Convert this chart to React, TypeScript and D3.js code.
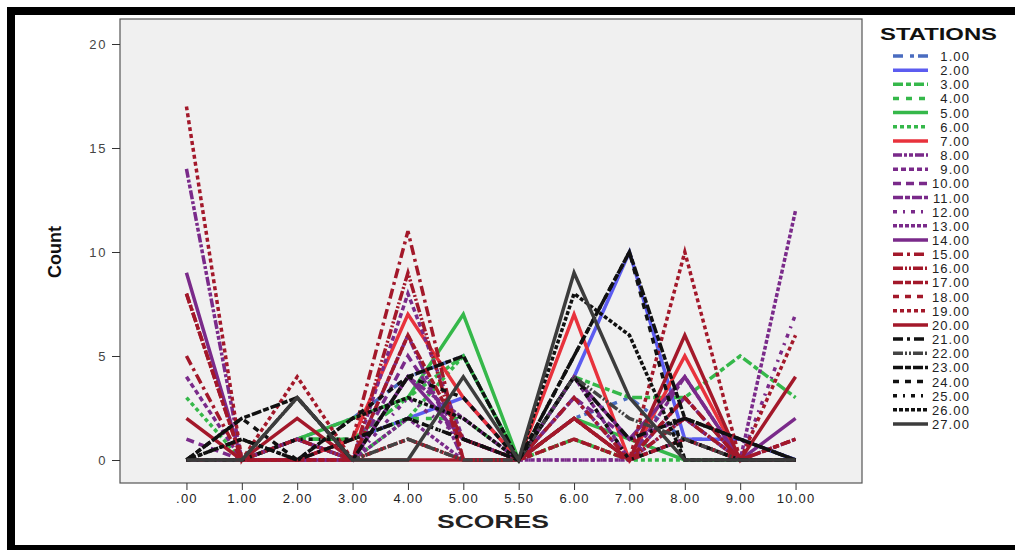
import { useEffect, useRef } from "react";
import * as d3 from "d3";

const scores = [".00", "1.00", "2.00", "3.00", "4.00", "5.00", "5.50", "6.00", "7.00", "8.00", "9.00", "10.00"];
const stations = [
  "1.00", "2.00", "3.00", "4.00", "5.00", "6.00", "7.00", "8.00", "9.00",
  "10.00", "11.00", "12.00", "13.00", "14.00", "15.00", "16.00", "17.00", "18.00",
  "19.00", "20.00", "21.00", "22.00", "23.00", "24.00", "25.00", "26.00", "27.00",
];
const yTicks = [0, 5, 10, 15, 20];

// counts per station, one value per score
const counts = [
  [0, 0, 1, 2, 4, 5, 0, 2, 3, 1, 1, 0],
  [0, 0, 0, 1, 2, 3, 0, 4, 10, 1, 1, 0],
  [0, 0, 1, 1, 3, 5, 0, 4, 3, 3, 5, 3],
  [0, 0, 1, 1, 2, 2, 0, 1, 0, 1, 0, 0],
  [0, 0, 1, 2, 3, 7, 0, 2, 1, 0, 0, 0],
  [3, 0, 1, 0, 2, 5, 0, 1, 0, 0, 0, 0],
  [0, 0, 0, 1, 7, 3, 0, 7, 0, 5, 0, 0],
  [14, 0, 0, 0, 6, 0, 0, 3, 0, 2, 0, 0],
  [4, 0, 1, 0, 8, 1, 0, 2, 0, 3, 0, 0],
  [1, 0, 0, 0, 5, 1, 0, 3, 1, 2, 0, 0],
  [0, 0, 1, 0, 4, 2, 0, 4, 0, 4, 0, 1],
  [0, 0, 0, 0, 3, 1, 0, 0, 0, 1, 0, 7],
  [0, 0, 0, 0, 2, 0, 0, 0, 0, 1, 0, 12],
  [9, 0, 1, 0, 4, 1, 0, 4, 1, 4, 0, 2],
  [5, 0, 0, 1, 11, 0, 0, 3, 0, 3, 0, 0],
  [8, 0, 1, 0, 9, 0, 0, 2, 0, 2, 0, 0],
  [8, 0, 0, 0, 6, 1, 0, 2, 0, 1, 0, 1],
  [0, 0, 0, 0, 1, 0, 0, 1, 0, 3, 0, 1],
  [17, 0, 4, 0, 1, 0, 0, 1, 0, 10, 0, 6],
  [2, 0, 2, 0, 0, 0, 0, 2, 0, 6, 0, 4],
  [0, 1, 0, 1, 2, 1, 0, 4, 1, 2, 1, 0],
  [0, 0, 3, 0, 1, 0, 0, 4, 2, 1, 0, 0],
  [0, 2, 3, 0, 4, 5, 0, 5, 10, 2, 1, 0],
  [0, 2, 0, 2, 4, 3, 0, 5, 10, 0, 0, 0],
  [0, 0, 1, 1, 2, 1, 0, 4, 0, 1, 0, 0],
  [0, 1, 0, 2, 3, 2, 0, 8, 6, 0, 0, 0],
  [0, 0, 3, 0, 0, 4, 0, 9, 3, 0, 0, 0],
];

const colors = [
  "#4a6cc0", "#5c5cf0", "#35b84a", "#35b84a", "#35b84a", "#35b84a", "#e8323c",
  "#7a2a8a", "#7a2a8a", "#7a2a8a", "#7a2a8a", "#7a2a8a", "#7a2a8a", "#7a2a8a",
  "#a3182a", "#a3182a", "#a3182a", "#a3182a", "#a3182a", "#a3182a",
  "#111111", "#444444", "#111111", "#111111", "#111111", "#111111", "#3c3c3c",
];
const dashes = [
  "10,7,4,4", "", "10,3,5,3", "6,7", "", "4,3", "",
  "9,2,3,2,4,2", "5,3", "8,5", "10,2,5,2", "4,6,2,6", "4,2", "",
  "10,4,3,4", "10,2,2,2,2,2", "10,2,6,2", "6,6", "4,3", "",
  "10,4,3,4", "10,2,2,2,2,2", "10,2,6,2", "6,6", "4,6,2,6", "4,2", "",
];

export default function App() {
  const ref = useRef<SVGSVGElement>(null);

  useEffect(() => {
    const svg = d3.select(ref.current);
    svg.selectAll("*").remove();
    const font = "'Liberation Sans', Arial, sans-serif";

    // outer frame
    svg.append("rect").attr("width", 1015).attr("height", 550).attr("fill", "#fff");
    svg.append("rect").attr("x", 7).attr("y", 7).attr("width", 1008).attr("height", 543).attr("fill", "#000");
    svg.append("rect").attr("x", 15).attr("y", 15).attr("width", 1000).attr("height", 530).attr("fill", "#fff");

    const left = 120, right = 862, top = 19, bottom = 483;
    svg.append("rect")
      .attr("x", left).attr("y", top)
      .attr("width", right - left).attr("height", bottom - top)
      .attr("fill", "#f0f0f0").attr("stroke", "#555").attr("stroke-width", 1.2);

    const x = d3.scalePoint().domain(scores).range([left, right]).padding(1.2);
    const y = d3.scaleLinear().domain([0, 20]).range([460, 44]);

    const yAxis = svg.append("g")
      .attr("transform", `translate(${left},0)`)
      .call(d3.axisLeft(y).tickValues(yTicks).tickSize(8).tickPadding(5));
    yAxis.select(".domain").remove();
    yAxis.selectAll("line").attr("stroke", "#333");
    yAxis.selectAll("text").attr("font-family", font).attr("font-size", 13)
      .attr("letter-spacing", 1.6).attr("fill", "#444");

    const xAxis = svg.append("g")
      .attr("transform", `translate(0,${bottom})`)
      .call(d3.axisBottom(x).tickSize(7).tickPadding(4));
    xAxis.select(".domain").remove();
    xAxis.selectAll("line").attr("stroke", "#333");
    xAxis.selectAll("text").attr("font-family", font).attr("font-size", 13)
      .attr("letter-spacing", 1.2).attr("fill", "#222");

    const line = d3.line<number>()
      .x((_, i) => x(scores[i]) as number)
      .y(d => y(d));

    counts.forEach((vals, i) => {
      svg.append("path")
        .datum(vals)
        .attr("fill", "none")
        .attr("stroke", colors[i])
        .attr("stroke-width", 3.5)
        .attr("stroke-dasharray", dashes[i] || null)
        .attr("stroke-linejoin", "miter")
        .attr("d", line);
    });

    svg.append("text")
      .attr("x", 437).attr("y", 528)
      .attr("textLength", 112).attr("lengthAdjust", "spacingAndGlyphs")
      .attr("font-family", font).attr("font-weight", "bold").attr("font-size", 19)
      .attr("fill", "#222")
      .text("SCORES");

    svg.append("text")
      .attr("transform", "translate(61,252) rotate(-90)")
      .attr("text-anchor", "middle")
      .attr("font-family", "'Liberation Sans Narrow', 'Liberation Sans', Arial, sans-serif")
      .attr("font-weight", "bold").attr("font-size", 18)
      .attr("fill", "#111")
      .text("Count");

    // legend
    const legend = svg.append("g");
    legend.append("text")
      .attr("x", 880).attr("y", 40)
      .attr("textLength", 117).attr("lengthAdjust", "spacingAndGlyphs")
      .attr("font-family", font).attr("font-weight", "bold").attr("font-size", 16)
      .attr("fill", "#111")
      .text("STATIONS");

    const ly = d3.scalePoint().domain(stations).range([56, 424]);
    stations.forEach((s, i) => {
      const yy = ly(s) as number;
      legend.append("line")
        .attr("x1", 893).attr("x2", 928).attr("y1", yy).attr("y2", yy)
        .attr("stroke", colors[i]).attr("stroke-width", 3.5)
        .attr("stroke-dasharray", dashes[i] || null);
      legend.append("text")
        .attr("x", 970).attr("y", yy + 5)
        .attr("text-anchor", "end")
        .attr("font-family", font).attr("font-size", 13)
        .attr("letter-spacing", 1.1)
        .attr("fill", "#222")
        .text(s);
    });
  }, []);

  return (
    <svg ref={ref} width={1015} height={550} style={{ position: "absolute", left: 0, top: 0 }} />
  );
}
